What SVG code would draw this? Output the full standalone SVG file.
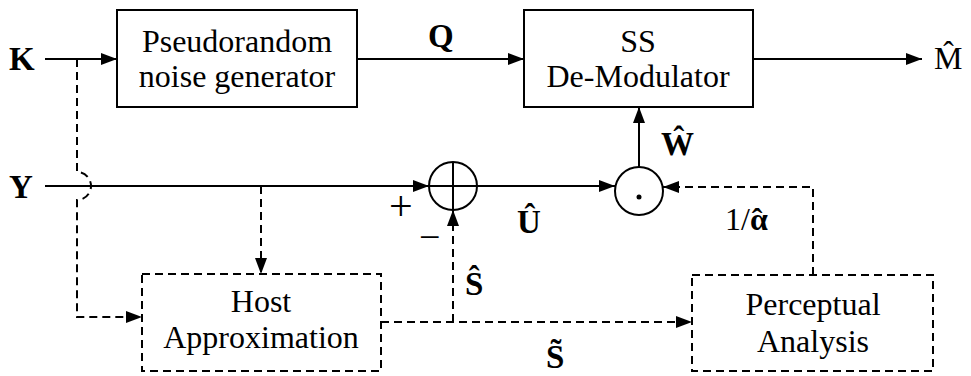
<svg xmlns="http://www.w3.org/2000/svg" width="971" height="376" viewBox="0 0 971 376">
<style>
.box{fill:#fff;stroke:#000;stroke-width:2}
.dbox{fill:#fff;stroke:#000;stroke-width:2;stroke-dasharray:8 5}
.ln{fill:none;stroke:#000;stroke-width:2}
.dl{fill:none;stroke:#000;stroke-width:2;stroke-dasharray:8 5}
text{font-family:'Liberation Serif','DejaVu Serif',serif;fill:#000}
.t{font-size:32px;text-anchor:middle}
.lb{font-size:33px;font-weight:bold}
.lr{font-size:32px}
</style>
<defs>
<marker id="ah" markerUnits="userSpaceOnUse" markerWidth="16" markerHeight="12" refX="16" refY="6" orient="auto">
<path d="M0,0 L16,6 L0,12 z" fill="#000"/>
</marker>
</defs>
<g id="connectors">
<path class="ln" d="M45,59 H117" marker-end="url(#ah)"/>
<path class="ln" d="M357,59 H524" marker-end="url(#ah)"/>
<path class="ln" d="M753,59 H922" marker-end="url(#ah)"/>
<path class="ln" d="M45,186 H429" marker-end="url(#ah)"/>
<path class="ln" d="M477,186 H615" marker-end="url(#ah)"/>
<path class="ln" d="M639,167 V107" marker-end="url(#ah)"/>
<path class="dl" d="M77,59 V172 A14,14 0 0 1 77,200 V317 H142" marker-end="url(#ah)"/>
<path class="dl" d="M261,186 V274" marker-end="url(#ah)"/>
<path class="dl" d="M381,322 H692" marker-end="url(#ah)"/>
<path class="dl" d="M453,322 V210" marker-end="url(#ah)"/>
<path class="dl" d="M813,275 V187 H663" marker-end="url(#ah)"/>
</g>
<g id="prng">
<rect class="box" x="117" y="10" width="240" height="97"/>
<text class="t" x="237" y="52">Pseudorandom</text>
<text class="t" x="237" y="87">noise generator</text>
</g>
<g id="demod">
<rect class="box" x="524" y="10" width="229" height="97"/>
<text class="t" x="638" y="52">SS</text>
<text class="t" x="638" y="87">De-Modulator</text>
</g>
<g id="adder">
<circle class="ln" cx="453" cy="186" r="24"/>
<path class="ln" d="M429,186 H477 M453,162 V210"/>
</g>
<g id="mult">
<circle class="ln" cx="639" cy="191" r="24"/>
<circle cx="639" cy="197" r="2.5" fill="#000"/>
</g>
<g id="host">
<rect class="dbox" x="142" y="274" width="239" height="97"/>
<text class="t" x="261" y="312">Host</text>
<text class="t" x="261" y="348">Approximation</text>
</g>
<g id="perceptual">
<rect class="dbox" x="692" y="275" width="241" height="96"/>
<text class="t" x="813" y="315">Perceptual</text>
<text class="t" x="813" y="352">Analysis</text>
</g>
<g id="labels">
<text class="lb" x="9" y="70">K</text>
<text class="lb" x="9" y="198">Y</text>
<text class="lb" x="428" y="47">Q</text>
<text class="lr" x="934" y="69">M̂</text>
<text class="lb" x="661" y="155">Ŵ</text>
<text class="lb" x="517" y="233">Û</text>
<text class="lb" x="465" y="295">Ŝ</text>
<text class="lb" x="546" y="368">S̃</text>
<text class="lr" x="725" y="230">1/<tspan font-weight="bold">α</tspan><tspan font-weight="bold" dx="-16">ˆ</tspan></text>
<text class="lr" x="389" y="220" style="font-size:42px">+</text>
<text class="lr" x="419" y="250" style="font-size:38px">−</text>
</g>
</svg>
